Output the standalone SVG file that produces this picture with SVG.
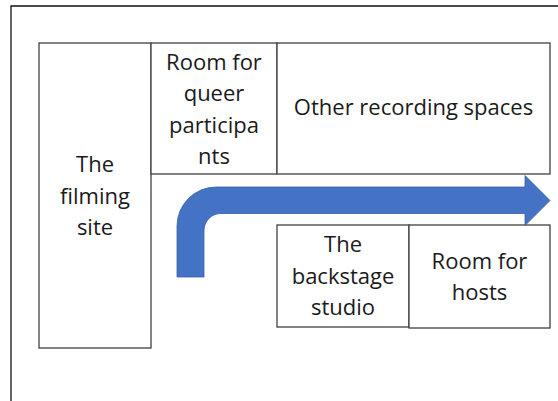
<svg xmlns="http://www.w3.org/2000/svg" width="558" height="401" viewBox="0 0 558 401">
<style>
.box{fill:#fff;stroke:#404040;stroke-width:1.3}
.t{font-family:"Open Sans","Noto Sans",sans-serif;font-size:22px;fill:#1a1a1a;text-anchor:middle}
.frame{fill:none;stroke:#111;stroke-width:1.3}
.arrow{fill:#4472C4;stroke:#3760a8;stroke-width:0.8}
</style>
<rect width="558" height="401" fill="#fff"/>
<path class="frame" d="M11,401 V6 H558"/>
<g id="filming-site">
<rect class="box" x="39" y="43" width="112" height="305"/>
<text class="t" x="95"><tspan x="95" y="172">The</tspan><tspan x="95" y="203.5">filming</tspan><tspan x="95" y="235">site</tspan></text>
</g>
<g id="queer-room">
<rect class="box" x="151" y="43" width="126" height="131"/>
<text class="t" x="214"><tspan x="214" y="69.5">Room for</tspan><tspan x="214" y="101">queer</tspan><tspan x="214" y="132.5">participa</tspan><tspan x="214" y="164">nts</tspan></text>
</g>
<g id="other-spaces">
<rect class="box" x="277" y="43" width="273" height="131"/>
<text class="t" x="413.5" y="115">Other recording spaces</text>
</g>
<g id="backstage">
<rect class="box" x="277" y="225" width="132" height="102"/>
<text class="t" x="343"><tspan x="343" y="252">The</tspan><tspan x="343" y="283.5">backstage</tspan><tspan x="343" y="315">studio</tspan></text>
</g>
<g id="hosts-room">
<rect class="box" x="409" y="225" width="141" height="103"/>
<text class="t" x="479.5"><tspan x="479.5" y="268.5">Room for</tspan><tspan x="479.5" y="299.5">hosts</tspan></text>
</g>
<g id="connectors">
<path class="arrow" d="M177,277 L177,226 A39,39 0 0 1 216,187 L525,187 L525,175.5 L550,200.5 L525,225.5 L525,213.5 L221,213.5 A17,17 0 0 0 204,230.5 L204,277 Z"/>
</g>
</svg>
